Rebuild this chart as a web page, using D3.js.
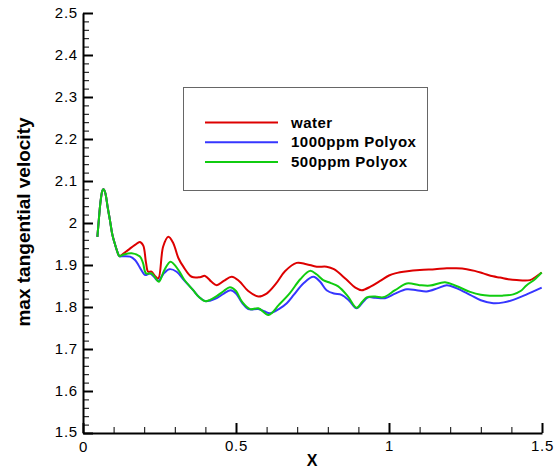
<!DOCTYPE html>
<html>
<head>
<meta charset="utf-8">
<script src="https://cdn.jsdelivr.net/npm/d3@7"></script>
<style>
  html, body { margin: 0; padding: 0; background: #fff; }
  svg { display: block; font-family: Arial, "Liberation Sans", Helvetica, sans-serif; }
</style>
</head>
<body>
<svg id="chart" width="559" height="471"></svg>
<script>
// ---- data ----
const seriesNames = ["water", "1000ppm Polyox", "500ppm Polyox"];
const xTickValues = [0, 0.5, 1, 1.5];
const yTickValues = [1.5, 1.6, 1.7, 1.8, 1.9, 2, 2.1, 2.2, 2.3, 2.4, 2.5];

// shared initial portion (all three curves coincide)
const headPoints = [[0.047,1.967],[0.052,2.01],[0.058,2.055],[0.064,2.078],[0.068,2.080],[0.074,2.068],[0.080,2.04],[0.088,2.007],[0.096,1.972],[0.105,1.948],[0.112,1.932],[0.119,1.921]];

const waterPoints = [[0.13,1.926],[0.148,1.936],[0.170,1.948],[0.186,1.955],[0.197,1.946],[0.206,1.905],[0.213,1.884],[0.224,1.884],[0.235,1.874],[0.246,1.868],[0.262,1.944],[0.279,1.967],[0.295,1.952],[0.312,1.916],[0.328,1.896],[0.355,1.872],[0.382,1.871],[0.399,1.874],[0.42,1.860],[0.437,1.852],[0.46,1.862],[0.486,1.872],[0.51,1.862],[0.54,1.838],[0.573,1.825],[0.60,1.832],[0.63,1.855],[0.66,1.885],[0.698,1.905],[0.73,1.902],[0.764,1.896],[0.796,1.896],[0.82,1.89],[0.86,1.866],[0.89,1.846],[0.911,1.840],[0.941,1.849],[0.971,1.862],[1.0,1.875],[1.020,1.880],[1.06,1.885],[1.101,1.888],[1.15,1.890],[1.189,1.892],[1.22,1.892],[1.254,1.890],[1.28,1.886],[1.308,1.880],[1.34,1.873],[1.363,1.870],[1.39,1.866],[1.417,1.864],[1.461,1.864],[1.48,1.872],[1.499,1.882]];

const polyox1000Points = [[0.13,1.921],[0.154,1.920],[0.17,1.912],[0.181,1.900],[0.193,1.885],[0.203,1.876],[0.219,1.880],[0.232,1.872],[0.246,1.862],[0.262,1.878],[0.282,1.890],[0.306,1.884],[0.33,1.864],[0.36,1.840],[0.38,1.823],[0.399,1.814],[0.415,1.815],[0.437,1.821],[0.46,1.832],[0.483,1.840],[0.50,1.832],[0.52,1.810],[0.54,1.795],[0.573,1.795],[0.592,1.790],[0.611,1.785],[0.64,1.795],[0.666,1.809],[0.69,1.830],[0.72,1.856],[0.753,1.872],[0.775,1.860],[0.796,1.840],[0.82,1.832],[0.845,1.829],[0.87,1.815],[0.894,1.797],[0.915,1.812],[0.932,1.823],[0.955,1.822],[0.987,1.821],[1.02,1.832],[1.058,1.842],[1.09,1.840],[1.123,1.837],[1.16,1.845],[1.189,1.852],[1.22,1.845],[1.265,1.829],[1.30,1.816],[1.341,1.809],[1.375,1.811],[1.406,1.817],[1.45,1.830],[1.499,1.846]];

const polyox500Points = [[0.13,1.924],[0.159,1.928],[0.186,1.920],[0.196,1.905],[0.206,1.880],[0.224,1.880],[0.236,1.870],[0.248,1.860],[0.266,1.888],[0.286,1.908],[0.312,1.888],[0.33,1.866],[0.36,1.840],[0.38,1.823],[0.399,1.814],[0.415,1.817],[0.437,1.826],[0.46,1.838],[0.480,1.847],[0.50,1.838],[0.52,1.812],[0.546,1.795],[0.573,1.797],[0.606,1.781],[0.64,1.805],[0.676,1.833],[0.71,1.866],[0.742,1.886],[0.763,1.878],[0.785,1.864],[0.81,1.857],[0.834,1.849],[0.865,1.826],[0.894,1.798],[0.912,1.812],[0.927,1.823],[0.955,1.825],[0.981,1.823],[1.02,1.840],[1.058,1.856],[1.10,1.852],[1.134,1.851],[1.183,1.859],[1.22,1.850],[1.265,1.836],[1.30,1.829],[1.33,1.827],[1.37,1.827],[1.406,1.830],[1.43,1.838],[1.450,1.852],[1.475,1.865],[1.499,1.882]];

const seriesColors = ["#dd0000", "#3636ff", "#10cc10"];

// ---- layout ----
const svg = d3.select("#chart");
const plotLeft = 83, plotRight = 542, plotTop = 13, plotBottom = 433;

const x = d3.scaleLinear().domain([0, 1.5]).range([plotLeft, plotRight]);
const y = d3.scaleLinear().domain([1.5, 2.5]).range([plotBottom, plotTop]);

const fmt = d => String(+d.toFixed(2));

// minor ticks
svg.append("g")
  .attr("transform", `translate(0,${plotBottom})`)
  .call(d3.axisBottom(x).tickValues(d3.range(0, 1.5001, 0.1)).tickSize(-6).tickFormat(""))
  .call(g => { g.select(".domain").remove(); g.selectAll("line").attr("stroke", "#000").attr("stroke-width", 1); });
svg.append("g")
  .attr("transform", `translate(${plotLeft},0)`)
  .call(d3.axisLeft(y).tickValues(d3.range(1.5, 2.5001, 0.02)).tickSize(-6).tickFormat(""))
  .call(g => { g.select(".domain").remove(); g.selectAll("line").attr("stroke", "#000").attr("stroke-width", 1); });

// major axes
const xAxis = svg.append("g")
  .attr("transform", `translate(0,${plotBottom})`)
  .call(d3.axisBottom(x).tickValues(xTickValues).tickSize(-10).tickSizeOuter(0).tickPadding(7).tickFormat(fmt));
const yAxis = svg.append("g")
  .attr("transform", `translate(${plotLeft},0)`)
  .call(d3.axisLeft(y).tickValues(yTickValues).tickSize(-10).tickSizeOuter(0).tickPadding(5).tickFormat(fmt));

[xAxis, yAxis].forEach(g => {
  g.select(".domain").attr("stroke", "#000").attr("stroke-width", 2);
  g.selectAll(".tick line").attr("stroke", "#000").attr("stroke-width", 2);
  g.selectAll("text").attr("fill", "#000")
    .style("font-size", "15px").style("letter-spacing", "0.8px")
    .style("font-family", "Arial, 'Liberation Sans', sans-serif");
});
xAxis.selectAll(".tick text").filter(d => d === 0).attr("y", 8);
yAxis.selectAll(".tick text").filter(d => d === 1.5).attr("dy", "0.2em");

// axis titles
svg.append("text")
  .attr("x", 312).attr("y", 466)
  .attr("text-anchor", "middle")
  .style("font-size", "16px").style("font-weight", "bold")
  .text("X");
svg.append("text")
  .attr("transform", "translate(30,222) rotate(-90)")
  .attr("text-anchor", "middle")
  .style("font-size", "19px").style("font-weight", "bold")
  .text("max tangential velocity");

// lines
const line = d3.line().x(d => x(d[0])).y(d => y(d[1])).curve(d3.curveCatmullRom.alpha(0.5));
const allSeries = [waterPoints, polyox1000Points, polyox500Points];
allSeries.forEach((pts, i) => {
  svg.append("path")
    .datum(headPoints.concat(pts))
    .attr("fill", "none")
    .attr("stroke", seriesColors[i])
    .attr("stroke-width", 2)
    .attr("stroke-linejoin", "round")
    .attr("d", line);
});

// legend
const legend = svg.append("g");
legend.append("rect")
  .attr("x", 183.5).attr("y", 87.5).attr("width", 244).attr("height", 103)
  .attr("fill", "#fff").attr("stroke", "#666").attr("stroke-width", 1);
seriesNames.forEach((name, i) => {
  const ly = 122.5 + i * 19.7;
  legend.append("line")
    .attr("x1", 205).attr("x2", 278).attr("y1", ly).attr("y2", ly)
    .attr("stroke", seriesColors[i]).attr("stroke-width", 2);
  legend.append("text")
    .attr("x", 291).attr("y", ly + 5)
    .style("font-size", "15px").style("font-weight", "bold").style("letter-spacing", "0.5px")
    .text(name);
});
</script>
</body>
</html>
